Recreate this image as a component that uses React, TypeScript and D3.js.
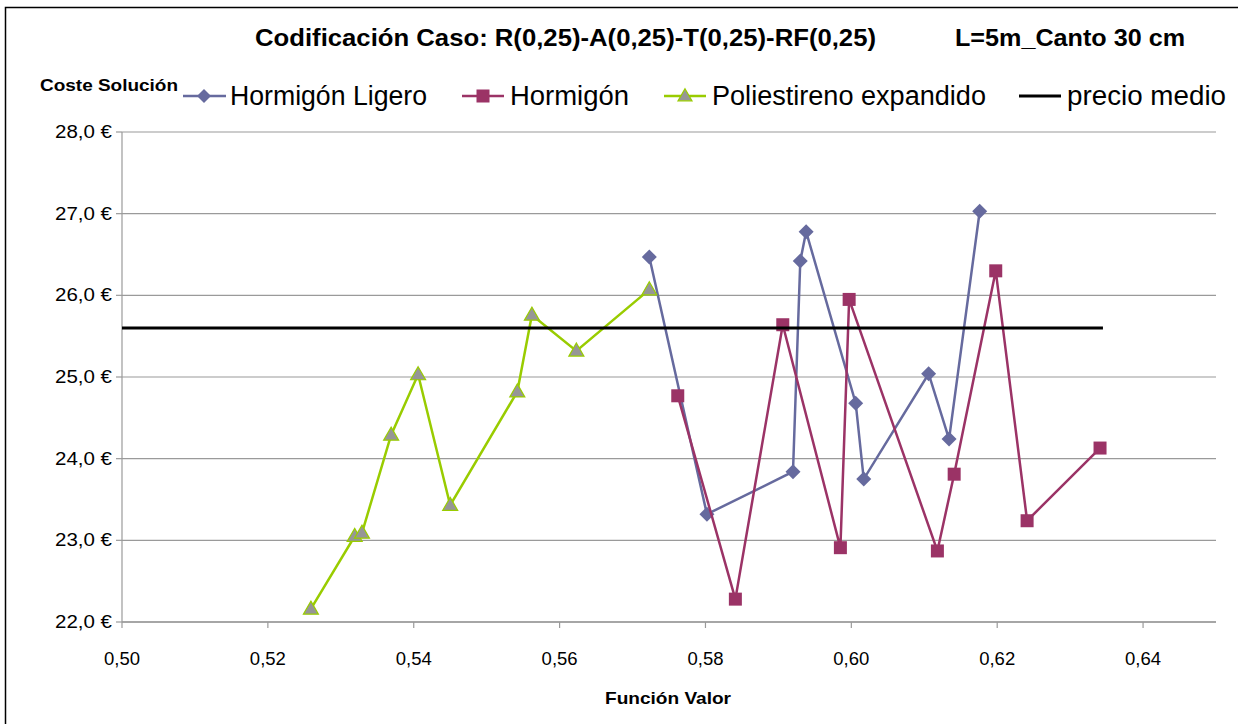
import React from "react";
import * as d3 from "d3";

const ligeroX = [0.5723, 0.5802, 0.5920, 0.5930, 0.5938, 0.6006, 0.6017, 0.6106, 0.6134, 0.6176];
const ligeroY = [26.47, 23.32, 23.84, 26.42, 26.78, 24.68, 23.75, 25.04, 24.24, 27.03];

const hormigonX = [0.5762, 0.5841, 0.5906, 0.5985, 0.5997, 0.6118, 0.6141, 0.6198, 0.6241, 0.6341];
const hormigonY = [24.77, 22.28, 25.64, 22.91, 25.95, 22.87, 23.81, 26.30, 23.24, 24.13];

const polieX = [0.5259, 0.5319, 0.5329, 0.5369, 0.5406, 0.5450, 0.5542, 0.5562, 0.5623, 0.5723];
const polieY = [22.16, 23.05, 23.09, 24.29, 25.03, 23.43, 24.82, 25.76, 25.32, 26.07];

const medioX = [0.5, 0.6345];
const medioY = [25.6, 25.6];

const xTicks = [0.5, 0.52, 0.54, 0.56, 0.58, 0.6, 0.62, 0.64];
const yTicks = [22, 23, 24, 25, 26, 27, 28];

const BLUE = "#666A9E";
const RED = "#9B3366";
const GREEN = "#99CC00";
const GRAY_FILL = "#969696";
const FONT = "'Liberation Sans Narrow', 'Liberation Sans', Arial, sans-serif";

const L = 122, R = 1216, T = 132, B = 622;

export default function App() {
  const x = d3.scaleLinear().domain([0.5, 0.65]).range([L, R]);
  const y = d3.scaleLinear().domain([22, 28]).range([B, T]);
  const line = d3.line<[number, number]>().x(d => x(d[0])).y(d => y(d[1]));
  const zip = (a: number[], b: number[]) => a.map((v, i) => [v, b[i]] as [number, number]);

  const lig = zip(ligeroX, ligeroY);
  const hor = zip(hormigonX, hormigonY);
  const pol = zip(polieX, polieY);
  const med = zip(medioX, medioY);

  const diamond = (cx: number, cy: number, r = 7.5) =>
    `M${cx},${cy - r}L${cx + r},${cy}L${cx},${cy + r}L${cx - r},${cy}Z`;
  const tri = (cx: number, cy: number, s = 15) => {
    const h = s * 0.87;
    return `M${cx},${cy - h * 0.6}L${cx + s / 2},${cy + h * 0.4}L${cx - s / 2},${cy + h * 0.4}Z`;
  };

  const fmtY = (v: number) => v.toFixed(1).replace(".", ",") + " €";
  const fmtX = (v: number) => v.toFixed(2).replace(".", ",");

  return (
    <svg width={1238} height={724} style={{ position: "absolute", left: 0, top: 0, background: "#fff" }}
      fontFamily={FONT}>
      <rect x={0} y={0} width={1238} height={724} fill="#fff" />
      <rect x={5.5} y={7.5} width={1240} height={720} fill="none" stroke="#000" strokeWidth={1.5} />

      {/* title */}
      <text x={255} y={46} fontSize={24} fontWeight="bold" textLength={621} lengthAdjust="spacingAndGlyphs">
        Codificación Caso: R(0,25)-A(0,25)-T(0,25)-RF(0,25)
      </text>
      <text x={955} y={46} fontSize={24} fontWeight="bold" textLength={230} lengthAdjust="spacingAndGlyphs">
        L=5m_Canto 30 cm
      </text>

      {/* y-axis title */}
      <text x={40} y={91} fontSize={16} fontWeight="bold" textLength={138} lengthAdjust="spacingAndGlyphs">
        Coste Solución
      </text>

      {/* grid */}
      {yTicks.map(t => (
        <line key={"g" + t} x1={L} x2={R} y1={y(t)} y2={y(t)} stroke="#9A9A9A" strokeWidth={1.2} />
      ))}
      <line x1={L} x2={L} y1={T} y2={B} stroke="#9A9A9A" strokeWidth={1.2} />
      <line x1={L} x2={R} y1={B} y2={B} stroke="#9A9A9A" strokeWidth={1.5} />
      {yTicks.map(t => (
        <g key={"yt" + t}>
          <line x1={L - 6} x2={L} y1={y(t)} y2={y(t)} stroke="#9A9A9A" strokeWidth={1.2} />
          <text x={112} y={y(t) + 6} fontSize={18} textAnchor="end" textLength={57} lengthAdjust="spacingAndGlyphs">{fmtY(t)}</text>
        </g>
      ))}
      {xTicks.map(t => (
        <g key={"xt" + t}>
          <line x1={x(t)} x2={x(t)} y1={B} y2={B + 6} stroke="#9A9A9A" strokeWidth={1.2} />
          <text x={x(t)} y={665} fontSize={19} textAnchor="middle" textLength={36} lengthAdjust="spacingAndGlyphs">{fmtX(t)}</text>
        </g>
      ))}
      <text x={668} y={704} fontSize={17} fontWeight="bold" textAnchor="middle" textLength={126} lengthAdjust="spacingAndGlyphs">
        Función Valor
      </text>

      {/* series */}
      <path d={line(lig) || ""} fill="none" stroke={BLUE} strokeWidth={2.5} />
      {lig.map((p, i) => <path key={"ld" + i} d={diamond(x(p[0]), y(p[1]))} fill={BLUE} />)}

      <path d={line(hor) || ""} fill="none" stroke={RED} strokeWidth={2.5} />
      {hor.map((p, i) => (
        <rect key={"hs" + i} x={x(p[0]) - 6.5} y={y(p[1]) - 6.5} width={13} height={13} fill={RED} />
      ))}

      <path d={line(pol) || ""} fill="none" stroke={GREEN} strokeWidth={2.5} />
      {pol.map((p, i) => (
        <path key={"pt" + i} d={tri(x(p[0]), y(p[1]))} fill={GRAY_FILL} stroke={GREEN} strokeWidth={1.2} />
      ))}

      <path d={line(med) || ""} fill="none" stroke="#000" strokeWidth={3} />

      {/* legend */}
      <g fontSize={27}>
        <line x1={183} x2={226} y1={96} y2={96} stroke={BLUE} strokeWidth={2.5} />
        <path d={diamond(204, 96, 7)} fill={BLUE} />
        <text x={230} y={105} textLength={197} lengthAdjust="spacingAndGlyphs">Hormigón Ligero</text>

        <line x1={462} x2={504} y1={96} y2={96} stroke={RED} strokeWidth={2.5} />
        <rect x={476.5} y={89.5} width={13} height={13} fill={RED} />
        <text x={510} y={105} textLength={119} lengthAdjust="spacingAndGlyphs">Hormigón</text>

        <line x1={664} x2={706} y1={96} y2={96} stroke={GREEN} strokeWidth={2.5} />
        <path d={tri(685, 96, 14)} fill={GRAY_FILL} stroke={GREEN} strokeWidth={1.2} />
        <text x={712} y={105} textLength={274} lengthAdjust="spacingAndGlyphs">Poliestireno expandido</text>

        <line x1={1019} x2={1061} y1={96} y2={96} stroke="#000" strokeWidth={3} />
        <text x={1067} y={105} textLength={159} lengthAdjust="spacingAndGlyphs">precio medio</text>
      </g>
    </svg>
  );
}
